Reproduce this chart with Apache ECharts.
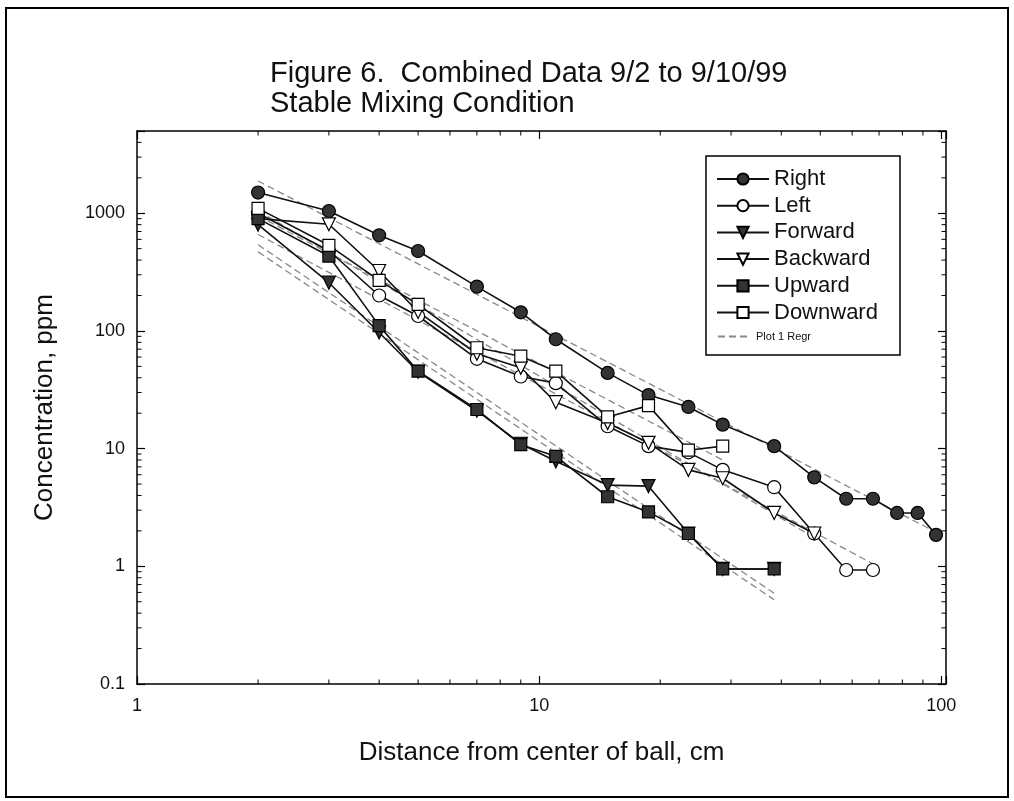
<!DOCTYPE html>
<html><head><meta charset="utf-8">
<script src="https://cdn.jsdelivr.net/npm/echarts@6/dist/echarts.min.js"></script>
<style>html,body{margin:0;padding:0;background:#fff}#c{width:1014px;height:801px}</style>
</head><body><div id="c"></div>
<script>
const FONT = '"Liberation Sans Narrow","Liberation Sans",Arial,sans-serif';

// distances (cm) at which points were measured
const distance = [2, 3, 4, 5, 7, 9, 11, 14.8, 18.7, 23.5, 28.6, 38.4, 48.3, 58, 67.6, 77.6, 87.3, 97];

// concentrations (ppm), in distance order
const rightVals    = [1500, 1045, 650, 478, 238, 144, 85, 44, 28.5, 22.6, 16, 10.5, 5.7, 3.75, 3.75, 2.84, 2.84, 1.85];
const leftVals     = [1000, 480, 200, 134, 58, 41, 36, 15.5, 10.5, 9.3, 6.6, 4.7, 1.9, 0.93, 0.93];
const forwardVals  = [800, 257, 97, 45, 21, 11, 7.8, 4.9, 4.8, 1.9, 0.95, 0.95];
const backwardVals = [900, 806, 323, 145, 64, 48.6, 24.8, 16.5, 11.2, 6.6, 5.6, 2.84, 1.9];
const upwardVals   = [900, 433, 111, 45.5, 21.5, 10.8, 8.6, 3.9, 2.9, 1.9, 0.95, 0.95];
const downwardVals = [1100, 534, 269, 168, 72, 61, 45.5, 18.6, 23.2, 9.7, 10.5];

// regression line end points [x1, x2], [y1, y2]
const regRightX = [2, 97],      regRightY = [1880, 1.95];
const regLeftX = [2, 67.6],     regLeftY = [660, 1.05];
const regForwardX = [2, 38.4],  regForwardY = [470, 0.52];
const regBackwardX = [2, 48.3], regBackwardY = [1050, 1.75];
const regUpwardX = [2, 38.4],   regUpwardY = [540, 0.59];
const regDownwardX = [2, 28.6], regDownwardY = [950, 8];

const xTickLabels = ['1', '10', '100'];
const yTickLabels = ['0.1', '1', '10', '100', '1000'];
const minorMultipliers = [2, 3, 4, 5, 6, 7, 8, 9];

const X_MIN = 1, X_MAX = 102.7, Y_MIN = 0.1, Y_MAX = 5000;

function pairs(vals) { return vals.map((v, i) => [distance[i], v]); }
function regPairs(xs, ys) { return xs.map((x, i) => [x, ys[i]]); }

function logLabel(labels, minExp) {
  return function (v) {
    const e = Math.log10(v);
    const r = Math.round(e);
    if (Math.abs(e - r) > 1e-6) return '';
    const s = labels[r - minExp];
    return s === undefined ? '' : s;
  };
}

const minorData = [];
for (let e = 0; e <= 2; e++) minorMultipliers.forEach(m => { const v = m * Math.pow(10, e); if (v < X_MAX) minorData.push([v, 'x']); });
for (let e = -1; e <= 3; e++) minorMultipliers.forEach(m => { const v = m * Math.pow(10, e); if (v < Y_MAX) minorData.push([v, 'y']); });

const lineStyle = { color: '#111', width: 1.6 };
function dataSeries(name, vals, symbol, filled, rotate) {
  return {
    name, type: 'line', data: pairs(vals), symbol, symbolSize: symbol === 'rect' ? 12 : 13,
    symbolRotate: rotate || 0,
    lineStyle, itemStyle: { color: filled ? '#333' : '#fff', borderColor: '#000', borderWidth: 1.2 },
    z: 3
  };
}
function regSeries(xs, ys) {
  return {
    name: 'Plot 1 Regr', type: 'line', data: regPairs(xs, ys), symbol: 'none',
    lineStyle: { color: '#888', width: 1.3, type: [7, 4] }, itemStyle: { color: '#888' }, z: 2
  };
}

const chart = echarts.init(document.getElementById('c'), null, { renderer: 'canvas' });
const axisCommon = {
  type: 'log', logBase: 10,
  axisLine: { show: true, lineStyle: { color: '#000', width: 1.5 } },
  axisTick: { show: true, inside: true, length: 8, lineStyle: { color: '#000', width: 1.2 } },
  splitLine: { show: false },
  minorTick: { show: false },
  minorSplitLine: { show: false }
};

chart.setOption({
  animation: false,
  backgroundColor: '#fff',
  title: {
    text: 'Figure 6.  Combined Data 9/2 to 9/10/99\nStable Mixing Condition',
    left: 265, top: 54,
    textStyle: { fontFamily: FONT, fontSize: 29, fontWeight: 'normal', color: '#111', lineHeight: 30 }
  },
  grid: { left: 137, top: 131, width: 809, height: 553, containLabel: false },
  xAxis: [
    Object.assign({}, axisCommon, {
      min: X_MIN, max: X_MAX, position: 'bottom',
      name: 'Distance from center of ball, cm', nameLocation: 'middle', nameGap: 56,
      nameTextStyle: { fontFamily: FONT, fontSize: 26, color: '#111' },
      axisLabel: { formatter: logLabel(xTickLabels, 0), fontFamily: FONT, fontSize: 18, color: '#111', margin: 13 }
    }),
    Object.assign({}, axisCommon, {
      min: X_MIN, max: X_MAX, position: 'top', axisLabel: { show: false }
    })
  ],
  yAxis: [
    Object.assign({}, axisCommon, {
      min: Y_MIN, max: Y_MAX, position: 'left',
      name: 'Concentration, ppm', nameLocation: 'middle', nameGap: 79,
      nameTextStyle: { fontFamily: FONT, fontSize: 26, color: '#111' },
      axisLabel: { formatter: logLabel(yTickLabels, -1), fontFamily: FONT, fontSize: 18, color: '#111', margin: 12 }
    }),
    Object.assign({}, axisCommon, {
      min: Y_MIN, max: Y_MAX, position: 'right', axisLabel: { show: false }
    })
  ],
  legend: [
    {
      left: 716, top: 168, orient: 'vertical', padding: 0,
      itemWidth: 52, itemHeight: 14, itemGap: 4.7,
      textStyle: { fontFamily: FONT, fontSize: 22, color: '#111' },
      data: ['Right', 'Left', 'Forward', 'Backward', 'Upward', 'Downward']
    },
    {
      left: 717, top: 331, orient: 'vertical', padding: 0,
      itemWidth: 33, itemHeight: 10, itemGap: 0,
      textStyle: { fontFamily: FONT, fontSize: 11, color: '#111' },
      data: [{ name: 'Plot 1 Regr', itemStyle: { opacity: 0 } }]
    }
  ],
  graphic: [
    { type: 'rect', shape: { x: 6, y: 8, width: 1002, height: 789 }, style: { fill: 'none', stroke: '#000', lineWidth: 2 }, silent: true, z: -1 },
    { type: 'rect', shape: { x: 706, y: 156, width: 194, height: 199 }, style: { fill: '#fff', stroke: '#000', lineWidth: 1.5 }, silent: true, z: 1 }
  ],
  series: [
    {
      type: 'custom', name: 'minor', silent: true, clip: false, z: 5, data: minorData,
      xAxisIndex: 0, yAxisIndex: 0,
      renderItem: function (params, api) {
        const cs = params.coordSys;
        const v = api.value(0);
        const kind = minorData[params.dataIndex][1];
        const L = 4.5;
        const st = { stroke: '#000', lineWidth: 1 };
        if (kind === 'x') {
          const px = api.coord([v, Y_MIN])[0];
          return { type: 'group', children: [
            { type: 'line', shape: { x1: px, y1: cs.y + cs.height, x2: px, y2: cs.y + cs.height - L }, style: st },
            { type: 'line', shape: { x1: px, y1: cs.y, x2: px, y2: cs.y + L }, style: st }
          ]};
        } else {
          const py = api.coord([X_MIN, v])[1];
          return { type: 'group', children: [
            { type: 'line', shape: { x1: cs.x, y1: py, x2: cs.x + L, y2: py }, style: st },
            { type: 'line', shape: { x1: cs.x + cs.width, y1: py, x2: cs.x + cs.width - L, y2: py }, style: st }
          ]};
        }
      }
    },
    regSeries(regRightX, regRightY),
    regSeries(regLeftX, regLeftY),
    regSeries(regForwardX, regForwardY),
    regSeries(regBackwardX, regBackwardY),
    regSeries(regUpwardX, regUpwardY),
    regSeries(regDownwardX, regDownwardY),
    dataSeries('Right', rightVals, 'circle', true),
    dataSeries('Left', leftVals, 'circle', false),
    dataSeries('Forward', forwardVals, 'triangle', true, 180),
    dataSeries('Backward', backwardVals, 'triangle', false, 180),
    dataSeries('Upward', upwardVals, 'rect', true),
    dataSeries('Downward', downwardVals, 'rect', false)
  ]
});
</script></body></html>
